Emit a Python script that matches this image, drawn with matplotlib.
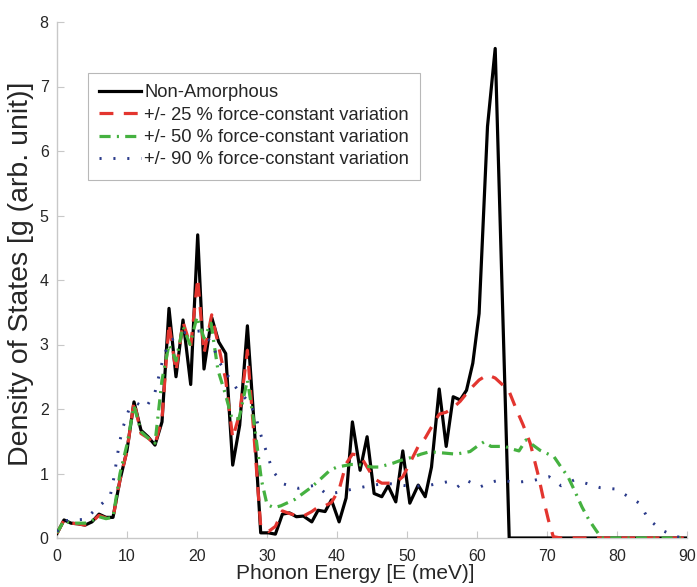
import matplotlib
matplotlib.use("Agg")
import matplotlib.pyplot as plt

plt.rcParams['font.family'] = ['Liberation Sans', 'DejaVu Sans']
plt.rcParams['lines.scale_dashes'] = False

# ---- data ----
black_x = [0, 1, 2, 3, 4, 5, 6, 7, 8, 9, 10, 11, 12, 13, 14, 15, 16, 17, 18, 19.1,
           20.1, 21.0, 22.1, 23.1, 24.1, 25.1, 26.1, 27.2, 28.2, 29.1, 30.2, 31.2, 32.2, 33.2, 34.2, 35.2,
           36.4, 37.3, 38.3, 39.2, 40.3, 41.3, 42.2, 43.3, 44.3, 45.3, 46.4, 47.3, 48.4, 49.4,
           50.4, 51.6, 52.6, 53.5, 54.6, 55.6, 56.6, 57.6, 58.5, 59.4, 60.3, 61.5, 62.6, 64.6, 90]
black_y = [0.07, 0.28, 0.23, 0.22, 0.2, 0.25, 0.37, 0.32, 0.32, 0.9, 1.36, 2.11, 1.67, 1.57, 1.44, 1.8, 3.56, 2.5, 3.38, 2.38,
           4.7, 2.62, 3.42, 3.04, 2.86, 1.13, 1.75, 3.29, 1.7, 0.08, 0.08, 0.06, 0.37, 0.39, 0.33, 0.34,
           0.25, 0.43, 0.41, 0.59, 0.25, 0.62, 1.8, 1.05, 1.57, 0.69, 0.64, 0.81, 0.56, 1.35,
           0.54, 0.82, 0.64, 1.1, 2.31, 1.42, 2.19, 2.14, 2.29, 2.71, 3.48, 6.38, 7.59, 0.0, 0.0]

red_x = [0, 1, 2, 3, 4, 5, 6, 7, 8, 9, 10, 11, 12, 13, 14, 15, 16, 17, 18, 19.1,
         20.1, 21.0, 22.1, 23.1, 24.1, 25.1, 26.1, 27.2, 28.2, 29.1, 30.2, 31.2, 32.2, 33.2, 34.2, 35.2,
         36.4, 37.3, 38.3, 39.2, 40.3, 41.3, 42.2, 43.3, 44.3, 45.3, 46.4, 47.3, 48.4, 49.4,
         50.4, 51.6, 52.6, 53.5, 54.6, 55.6, 56.6, 57.6, 58.5, 59.4, 60.3, 61.5, 62.6, 63.6, 64.6,
         65.6, 66.6, 67.6, 68.8, 69.6, 70.2, 70.9, 72, 90]
red_y = [0.07, 0.28, 0.23, 0.22, 0.2, 0.25, 0.35, 0.31, 0.31, 0.9, 1.35, 2.12, 1.62, 1.55, 1.45, 1.85, 3.33, 2.58, 3.35, 2.97,
         4.03, 2.86, 3.46, 2.97, 2.45, 1.55, 1.93, 2.91, 1.5, 0.18, 0.1, 0.18, 0.42, 0.38, 0.35, 0.34,
         0.41, 0.48, 0.5, 0.55, 0.75, 1.15, 1.3, 1.28, 1.1, 0.92, 0.85, 0.85, 0.86, 0.95,
         1.16, 1.42, 1.55, 1.72, 1.92, 1.95, 2.02, 2.12, 2.24, 2.35, 2.45, 2.53, 2.48, 2.38, 2.27,
         2.0, 1.75, 1.47, 0.95, 0.55, 0.28, 0.02, 0.0, 0.0]

green_x = [0, 1, 2, 3, 4, 5, 6, 7, 8, 9, 10, 11, 12, 13, 14, 15, 16, 17, 18, 19,
           20, 21, 22, 23, 24, 25, 26, 27.2, 28.2, 29.2, 30, 31, 32, 33, 34, 35, 36, 37, 38, 39,
           40, 41, 42, 43, 44, 45, 46, 47, 48, 49, 50, 51, 52, 53, 54, 55, 56, 57, 58, 59,
           60, 61, 62, 63, 64, 65, 66, 67, 68, 69, 70, 71, 72, 73, 74, 75, 76, 77, 77.8, 90]
green_y = [0.08, 0.27, 0.23, 0.23, 0.23, 0.27, 0.33, 0.3, 0.32, 1.0, 1.45, 2.05, 1.65, 1.55, 1.47, 2.45, 3.0, 2.75, 3.28, 3.0,
           3.43, 3.1, 3.33, 2.6, 2.25, 1.85, 1.85, 2.45, 1.75, 0.9, 0.52, 0.47, 0.5, 0.55, 0.6, 0.68, 0.76, 0.85, 0.95, 1.05,
           1.1, 1.12, 1.14, 1.14, 1.12, 1.1, 1.1, 1.13, 1.16, 1.2, 1.23, 1.26, 1.3, 1.33, 1.33, 1.32, 1.31, 1.3, 1.32, 1.34,
           1.42, 1.49, 1.42, 1.42, 1.42, 1.38, 1.35, 1.52, 1.44, 1.36, 1.31, 1.26, 1.1, 0.95, 0.72, 0.48, 0.28, 0.12, 0.0, 0.0]

blue_x = [0, 1.4, 4, 5.8, 7.6, 8.1, 8.5, 8.9, 9.5, 10.3, 11.4, 12.7, 14, 14.6, 15.2, 16.1, 18, 20.4,
          22.2, 23, 24.5, 25.9, 27.6, 28.5, 29.2, 30, 30.8, 32.3, 34.5, 37, 38.5, 40.3, 42.7, 44.7,
          47, 49, 50.9, 53.3, 55.7, 57.2, 58.4, 60.4, 62.1, 63.5, 65.4, 68, 70.3, 72, 73.9, 75.5,
          77.6, 79.7, 81.5, 83.2, 84.5, 86.4, 88.5, 90]
blue_y = [0.1, 0.27, 0.29, 0.47, 0.65, 0.92, 1.19, 1.47, 1.74, 2.0, 2.09, 2.02, 2.26, 2.53, 2.81, 3.05, 3.18, 3.21,
          3.02, 2.76, 2.5, 2.28, 2.09, 1.84, 1.57, 1.31, 1.04, 0.84, 0.77, 0.82, 0.68, 0.71, 0.77, 0.81,
          0.85, 0.82, 0.8, 0.82, 0.87, 0.79, 0.9, 0.79, 0.87, 0.9, 0.86, 0.89, 0.95, 0.81, 0.9, 0.85,
          0.78, 0.76, 0.65, 0.54, 0.29, 0.12, 0.02, 0.0]

labels = ['Non-Amorphous',
          '+/- 25 % force-constant variation',
          '+/- 50 % force-constant variation',
          '+/- 90 % force-constant variation']
x_ticks = [0, 10, 20, 30, 40, 50, 60, 70, 80, 90]
y_ticks = [0, 1, 2, 3, 4, 5, 6, 7, 8]

# ---- figure ----
W, H = 697, 587
fig = plt.figure(figsize=(W / 100, H / 100), dpi=100)
ax = fig.add_axes([57 / W, 1 - 538 / H, (687 - 57) / W, (538 - 22) / H])

ax.plot(black_x, black_y, color='black', lw=2.3, label=labels[0], zorder=3)
ax.plot(red_x, red_y, color='#e3352f', lw=2.3, dashes=(10, 7.5), label=labels[1], zorder=4)
ax.plot(green_x, green_y, color='#45b140', lw=2.3, dashes=(8, 4.5, 1.5, 4.5), label=labels[2], zorder=5)
ax.plot(blue_x, blue_y, color='#2a3a8a', lw=2.1, dashes=(1.5, 8.5), label=labels[3], zorder=6)

ax.set_xlim(0, 90)
ax.set_ylim(0, 8)
ax.set_xticks(x_ticks)
ax.set_yticks(y_ticks)
for s in ['top', 'right']:
    ax.spines[s].set_visible(False)
for s in ['left', 'bottom']:
    ax.spines[s].set_color('#c8c8c8')
    ax.spines[s].set_linewidth(1.0)
ax.tick_params(direction='in', length=5, color='#c8c8c8', labelsize=11.5, labelcolor='#262626')
ax.tick_params(axis='x', pad=8)
ax.tick_params(axis='y', pad=6)

ax.set_xlabel('Phonon Energy [E (meV)]', fontsize=15, color='#262626')
ax.set_ylabel('Density of States [g (arb. unit)]', fontsize=20.5, color='#262626')
ax.xaxis.set_label_coords((355 - 57) / 630, (538 - 564) / 516)
ax.yaxis.set_label_coords((34 - 57) / 630, (538 - 273.5) / 516)

leg = ax.legend(loc='upper left', bbox_to_anchor=((88 - 57) / 630, (538 - 73) / 516),
                borderaxespad=0, fancybox=False, framealpha=1, edgecolor='#b8b8b8',
                fontsize=13.2, handlelength=2.3, handletextpad=0.18, labelspacing=0.3,
                borderpad=0.6)
for t in leg.get_texts():
    t.set_color('#262626')
leg.get_frame().set_linewidth(0.8)

fig.savefig('out.png', dpi=100)
